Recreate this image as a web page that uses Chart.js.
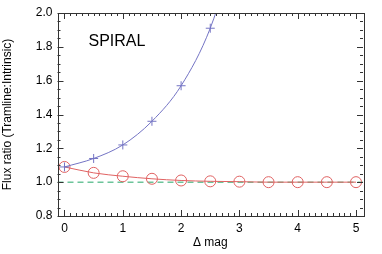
<!DOCTYPE html>
<html>
<head>
<meta charset="utf-8">
<script src="https://cdn.jsdelivr.net/npm/chart.js@4/dist/chart.umd.min.js"></script>
<style>
html,body{margin:0;padding:0;background:#fff;}
#wrap{width:382px;height:254px;}
</style>
</head>
<body>
<div id="wrap"><canvas id="c" width="382" height="254"></canvas></div>
<script>
// Data
const deltaMag = [0, 0.5, 1.0, 1.5, 2.0, 2.5, 3.0, 3.5, 4.0, 4.5, 5.0];
const blueRatio = [1.09, 1.14, 1.22, 1.36, 1.57, 1.91, 2.46, null, null, null, null];
const redRatio = [1.09, 1.055, 1.035, 1.02, 1.01, 1.005, 1.003, 1.0, 1.0, 1.0, 1.0];
const refX = [-0.12, 5.12];
const refY = [1.0, 1.0];
const panelLabel = "SPIRAL";
const xTitle = "\u0394 mag";
const yTitle = "Flux ratio (Tramline:Intrinsic)";

const FONT = "'Liberation Sans', Arial, Helvetica, sans-serif";

const pts = (xs, ys) => xs.map((x, i) => ({x: x, y: ys[i]})).filter(p => p.y !== null);

const axisPlugin = {
  id: 'idlAxes',
  afterDatasetsDraw(chart) {
    const ctx = chart.ctx;
    const a = chart.chartArea;
    const xs = chart.scales.x, ys = chart.scales.y;
    ctx.save();
    ctx.strokeStyle = '#333';
    ctx.lineWidth = 1;
    ctx.strokeRect(Math.round(a.left) + 0.5, Math.round(a.top) + 0.5,
      Math.round(a.right - a.left), Math.round(a.bottom - a.top));
    ctx.beginPath();
    for (let i = 0; i <= 50; i++) {
      const v = i / 10;
      const px = Math.round(xs.getPixelForValue(v)) + 0.5;
      const len = (i % 10 === 0) ? 6 : 3;
      ctx.moveTo(px, a.bottom); ctx.lineTo(px, a.bottom - len);
      ctx.moveTo(px, a.top); ctx.lineTo(px, a.top + len);
    }
    for (let i = 16; i <= 40; i++) {
      const v = i / 20;
      const py = Math.round(ys.getPixelForValue(v)) + 0.5;
      const len = (i % 4 === 0) ? 6 : 3;
      ctx.moveTo(a.left, py); ctx.lineTo(a.left + len, py);
      ctx.moveTo(a.right, py); ctx.lineTo(a.right - len, py);
    }
    ctx.stroke();
    ctx.fillStyle = '#000';
    ctx.font = "16px " + FONT;
    ctx.textAlign = 'center';
    ctx.textBaseline = 'middle';
    ctx.fillText(panelLabel, xs.getPixelForValue(0.9), ys.getPixelForValue(1.83));
    ctx.restore();
  }
};

new Chart(document.getElementById('c'), {
  type: 'scatter',
  data: {
    datasets: [
      {
        data: pts(refX, refY),
        showLine: true,
        borderColor: '#6cc49a',
        borderWidth: 1.5,
        borderDash: [6, 4],
        pointRadius: 0,
        order: 3
      },
      {
        data: pts(deltaMag, redRatio),
        showLine: true,
        borderColor: '#e06262',
        backgroundColor: 'rgba(0,0,0,0)',
        borderWidth: 1,
        pointStyle: 'circle',
        pointRadius: 5.5,
        pointBorderColor: '#e06262',
        pointBackgroundColor: 'rgba(0,0,0,0)',
        pointBorderWidth: 1,
        cubicInterpolationMode: 'monotone',
        order: 2
      },
      {
        data: pts(deltaMag, blueRatio),
        showLine: true,
        borderColor: '#7474c4',
        borderWidth: 1,
        pointStyle: 'cross',
        pointRadius: 4.5,
        pointBorderColor: '#7474c4',
        pointBorderWidth: 1,
        cubicInterpolationMode: 'monotone',
        order: 1
      }
    ]
  },
  options: {
    responsive: false,
    animation: false,
    devicePixelRatio: 1,
    layout: {padding: {top: 13, right: 19, left: 0, bottom: 4}},
    plugins: {legend: {display: false}, tooltip: {enabled: false}},
    scales: {
      x: {
        type: 'linear',
        min: -0.12, max: 5.12,
        afterBuildTicks(s) { s.ticks = [0,1,2,3,4,5].map(v => ({value: v})); },
        afterFit(s) { s.height = 34; },
        grid: {display: false, drawTicks: false},
        border: {display: false},
        ticks: {color: '#000', font: {family: FONT, size: 12}, padding: 5,
                callback: v => String(v), maxRotation: 0, autoSkip: false},
        title: {display: true, text: xTitle, color: '#000',
                font: {family: FONT, size: 12}, padding: {top: 1, bottom: 0}}
      },
      y: {
        type: 'linear',
        min: 0.8, max: 2.0,
        afterBuildTicks(s) { s.ticks = [0.8,1.0,1.2,1.4,1.6,1.8,2.0].map(v => ({value: v})); },
        afterFit(s) { s.width = 57.5; },
        grid: {display: false, drawTicks: false},
        border: {display: false},
        ticks: {color: '#000', font: {family: FONT, size: 12}, padding: 5,
                callback: v => Number(v).toFixed(1), autoSkip: false},
        title: {display: true, text: yTitle, color: '#000',
                font: {family: FONT, size: 12}, padding: {top: 0, bottom: 6}}
      }
    }
  },
  plugins: [axisPlugin]
});
</script>
</body>
</html>
